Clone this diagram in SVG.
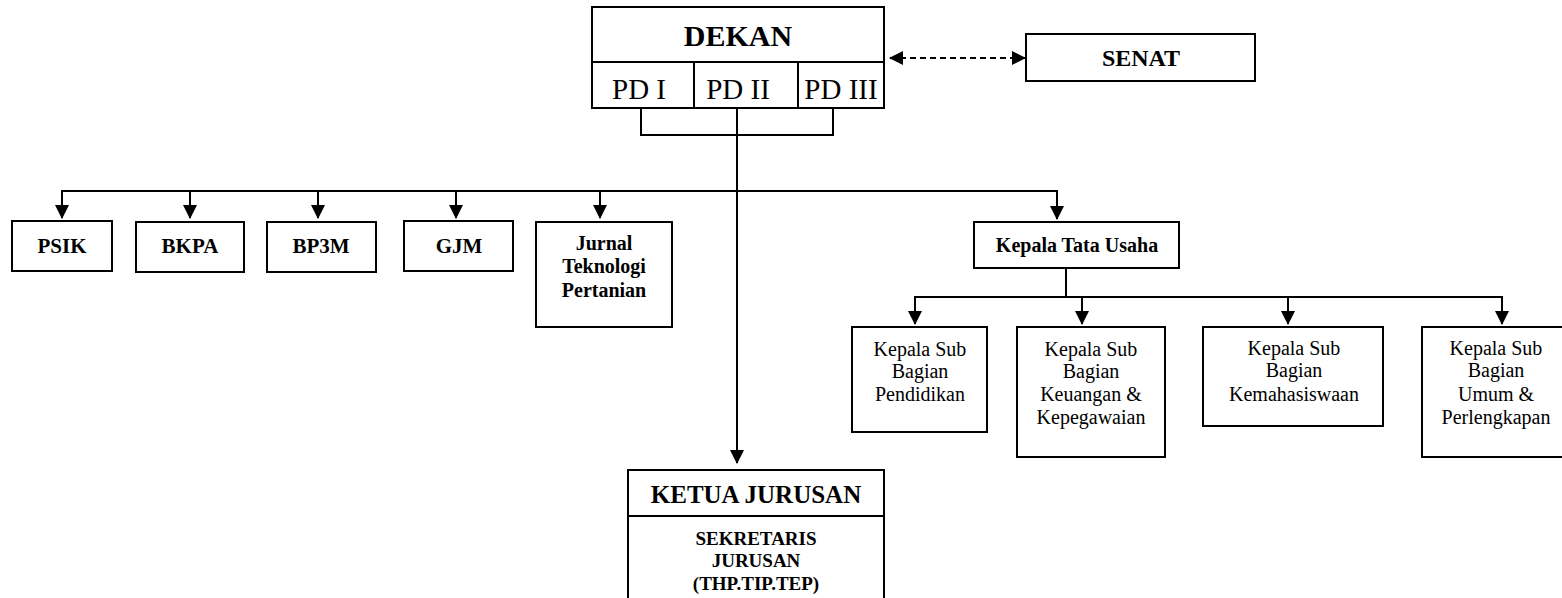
<svg xmlns="http://www.w3.org/2000/svg" width="1562" height="598" viewBox="0 0 1562 598">
<style>
.box{fill:#fff;stroke:#000;stroke-width:2}
.ln{fill:none;stroke:#000;stroke-width:2}
.t{font-family:"Liberation Serif","Times New Roman",serif;fill:#000;text-anchor:middle}
.b{font-weight:bold}
.s20{font-size:20px}
</style>
<defs>
<marker id="ah" viewBox="0 0 14 14" refX="13" refY="7" markerWidth="14" markerHeight="14" orient="auto-start-reverse" markerUnits="userSpaceOnUse">
<path d="M0,0 L14,7 L0,14 z" fill="#000"/>
</marker>
</defs>
<rect width="1562" height="598" fill="#fff"/>
<g id="connectors">
<polyline class="ln" points="641,108 641,135 833,135 833,108"/>
<line class="ln" x1="737" y1="108" x2="737" y2="463" marker-end="url(#ah)"/>
<polyline class="ln" points="62,218 62,191 1057,191 1057,219" marker-end="url(#ah)"/>
<line class="ln" x1="190" y1="191" x2="190" y2="218" marker-end="url(#ah)"/>
<line class="ln" x1="318" y1="191" x2="318" y2="218" marker-end="url(#ah)"/>
<line class="ln" x1="456" y1="191" x2="456" y2="218" marker-end="url(#ah)"/>
<line class="ln" x1="600" y1="191" x2="600" y2="218" marker-end="url(#ah)"/>
<polyline class="ln" points="62,204 62,218" marker-end="url(#ah)"/>
<line class="ln" x1="1066" y1="268" x2="1066" y2="297"/>
<polyline class="ln" points="915,324 915,297 1502,297 1502,324" marker-end="url(#ah)"/>
<line class="ln" x1="915" y1="310" x2="915" y2="324" marker-end="url(#ah)"/>
<line class="ln" x1="1082" y1="297" x2="1082" y2="324" marker-end="url(#ah)"/>
<line class="ln" x1="1288" y1="297" x2="1288" y2="324" marker-end="url(#ah)"/>
<line class="ln" x1="890" y1="58" x2="1025" y2="58" stroke-dasharray="6,4" marker-start="url(#ah)" marker-end="url(#ah)"/>
</g>
<g id="dekan">
<rect class="box" x="592" y="7" width="292" height="101"/>
<line class="ln" x1="592" y1="62" x2="884" y2="62"/>
<line class="ln" x1="694" y1="62" x2="694" y2="108"/>
<line class="ln" x1="798" y1="62" x2="798" y2="108"/>
<text class="t b" x="738" y="46" font-size="30">DEKAN</text>
<text class="t" x="639" y="99" font-size="29">PD I</text>
<text class="t" x="738" y="99" font-size="29">PD II</text>
<text class="t" x="841" y="99" font-size="29">PD III</text>
</g>
<g id="senat">
<rect class="box" x="1026" y="34" width="229" height="47"/>
<text class="t b" x="1141" y="66" font-size="24">SENAT</text>
</g>
<g id="psik">
<rect class="box" x="12" y="221" width="100" height="50"/>
<text class="t b" x="62" y="253" font-size="21">PSIK</text>
</g>
<g id="bkpa">
<rect class="box" x="136" y="222" width="108" height="50"/>
<text class="t b" x="190" y="253" font-size="21">BKPA</text>
</g>
<g id="bp3m">
<rect class="box" x="267" y="222" width="109" height="50"/>
<text class="t b" x="321" y="253" font-size="21">BP3M</text>
</g>
<g id="gjm">
<rect class="box" x="404" y="221" width="109" height="50"/>
<text class="t b" x="459" y="253" font-size="21">GJM</text>
</g>
<g id="jurnal">
<rect class="box" x="536" y="222" width="136" height="105"/>
<text class="t b s20" x="604" y="250">Jurnal</text>
<text class="t b s20" x="604" y="273">Teknologi</text>
<text class="t b s20" x="604" y="297">Pertanian</text>
</g>
<g id="kepala-tata-usaha">
<rect class="box" x="974" y="222" width="205" height="46"/>
<text class="t b s20" x="1077" y="252">Kepala Tata Usaha</text>
</g>
<g id="sub-pendidikan">
<rect class="box" x="852" y="327" width="135" height="105"/>
<text class="t s20" x="920" y="356">Kepala Sub</text>
<text class="t s20" x="920" y="378">Bagian</text>
<text class="t s20" x="920" y="401">Pendidikan</text>
</g>
<g id="sub-keuangan">
<rect class="box" x="1017" y="327" width="148" height="130"/>
<text class="t s20" x="1091" y="356">Kepala Sub</text>
<text class="t s20" x="1091" y="378">Bagian</text>
<text class="t s20" x="1091" y="401">Keuangan &amp;</text>
<text class="t s20" x="1091" y="424">Kepegawaian</text>
</g>
<g id="sub-kemahasiswaan">
<rect class="box" x="1203" y="327" width="180" height="99"/>
<text class="t s20" x="1294" y="355">Kepala Sub</text>
<text class="t s20" x="1294" y="377">Bagian</text>
<text class="t s20" x="1294" y="401">Kemahasiswaan</text>
</g>
<g id="sub-umum">
<rect class="box" x="1422" y="327" width="150" height="130"/>
<text class="t s20" x="1496" y="355">Kepala Sub</text>
<text class="t s20" x="1496" y="377">Bagian</text>
<text class="t s20" x="1496" y="401">Umum &amp;</text>
<text class="t s20" x="1496" y="424">Perlengkapan</text>
</g>
<g id="ketua-jurusan">
<rect class="box" x="628" y="470" width="256" height="140"/>
<line class="ln" x1="628" y1="516" x2="884" y2="516"/>
<text class="t b" x="756" y="503" font-size="25">KETUA JURUSAN</text>
<text class="t b" x="756" y="545" font-size="19">SEKRETARIS</text>
<text class="t b" x="756" y="567" font-size="19">JURUSAN</text>
<text class="t b" x="756" y="590" font-size="19">(THP.TIP.TEP)</text>
</g>
</svg>
